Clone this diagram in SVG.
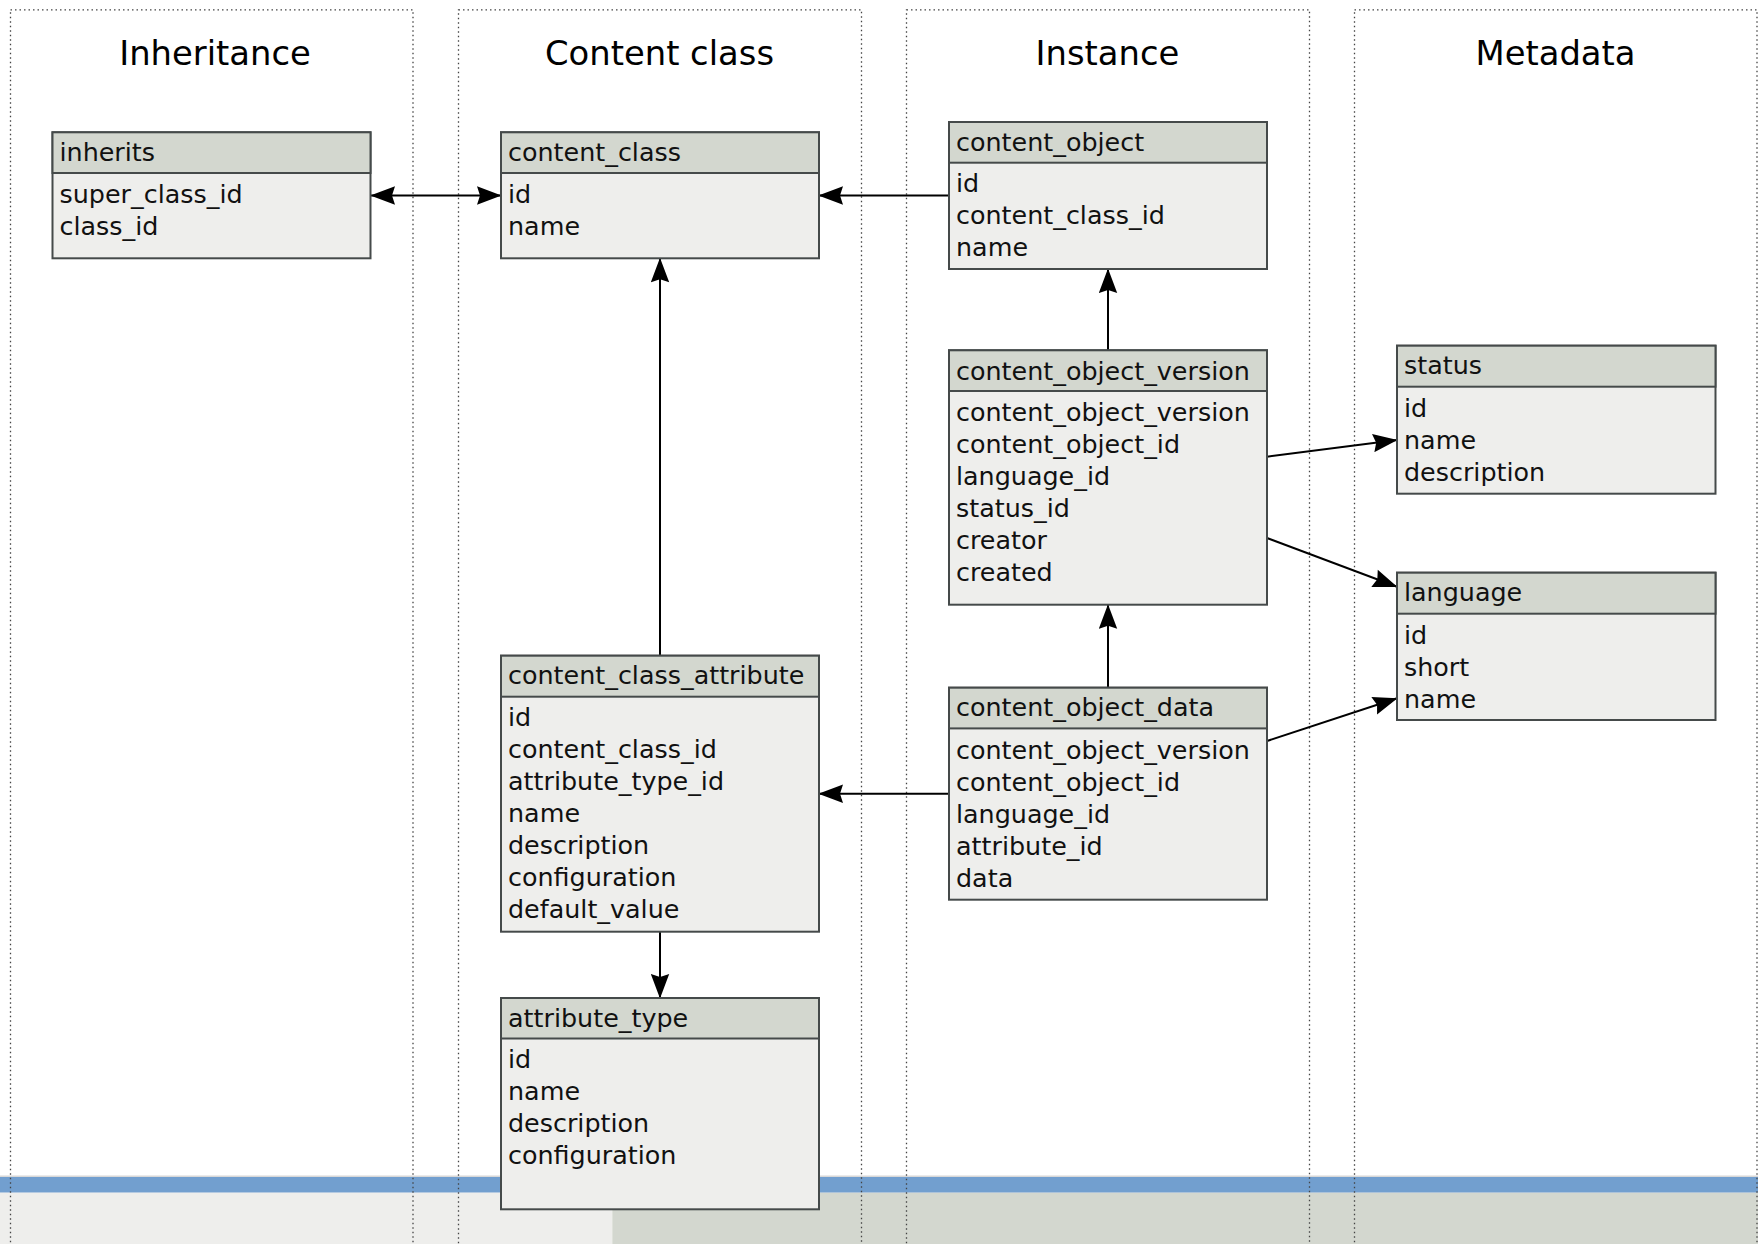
<svg xmlns="http://www.w3.org/2000/svg" width="1758" height="1244" viewBox="0 0 1758 1244">
<style>
.col{fill:none;stroke:#444;stroke-width:1.3;stroke-dasharray:1.5 3}
.title{font-family:"DejaVu Sans",sans-serif;font-size:33.8px;fill:#000;text-anchor:middle}
.hdr{fill:#d3d7cf;stroke:#454a4a;stroke-width:2}
.body{fill:#eeeeec;stroke:#454a4a;stroke-width:2}
.t{font-family:"DejaVu Sans",sans-serif;font-size:25.4px;fill:#111}
.c{fill:none;stroke:#000;stroke-width:2}
</style>
<defs>
<marker id="ah" viewBox="0 0 25 19" refX="24.5" refY="9.5" markerWidth="25" markerHeight="19" markerUnits="userSpaceOnUse" orient="auto-start-reverse">
<path d="M25,9.5 L0.5,0.3 L3.5,9.5 L0.5,18.7 Z" fill="#000"/>
</marker>
</defs>
<rect width="1758" height="1244" fill="#fff"/>
<g id="band">
<rect x="0" y="1175.5" width="1758" height="1.5" fill="#d8d8d8"/>
<rect x="0" y="1177" width="1758" height="15.7" fill="#729fcf"/>
<rect x="0" y="1192.7" width="612.3" height="52" fill="#eeeeec"/>
<rect x="612.3" y="1192.7" width="1146" height="52" fill="#d3d7cf"/>
</g>
<g id="columns">
<rect class="col" x="10.5" y="9.8" width="402.5" height="1260"/>
<rect class="col" x="458.5" y="9.8" width="403" height="1260"/>
<rect class="col" x="906.5" y="9.8" width="403" height="1260"/>
<rect class="col" x="1354.5" y="9.8" width="402.5" height="1260"/>
<text class="title" x="215" y="65">Inheritance</text>
<text class="title" x="659.5" y="65">Content class</text>
<text class="title" x="1107.5" y="65">Instance</text>
<text class="title" x="1555.5" y="65">Metadata</text>
</g>
<g id="connectors">
<line class="c" x1="371" y1="195.5" x2="501" y2="195.5" marker-start="url(#ah)" marker-end="url(#ah)"/>
<line class="c" x1="949" y1="195.5" x2="819" y2="195.5" marker-end="url(#ah)"/>
<line class="c" x1="660" y1="655.7" x2="660" y2="258.3" marker-end="url(#ah)"/>
<line class="c" x1="660" y1="931.7" x2="660" y2="998" marker-end="url(#ah)"/>
<line class="c" x1="1108" y1="350.3" x2="1108" y2="269" marker-end="url(#ah)"/>
<line class="c" x1="1108" y1="687.7" x2="1108" y2="604.7" marker-end="url(#ah)"/>
<line class="c" x1="949" y1="793.7" x2="819" y2="793.7" marker-end="url(#ah)"/>
<line class="c" x1="1267" y1="456.7" x2="1397" y2="440" marker-end="url(#ah)"/>
<line class="c" x1="1267" y1="538" x2="1397" y2="586.7" marker-end="url(#ah)"/>
<line class="c" x1="1267" y1="741" x2="1397" y2="698.3" marker-end="url(#ah)"/>
</g>
<g id="inherits">
<rect class="body" x="52.5" y="132.3" width="318" height="126"/>
<rect class="hdr" x="52.5" y="132.3" width="318" height="40.7"/>
<text class="t" x="59.5" y="160.9">inherits</text>
<text class="t" x="59.5" y="202.5">super_class_id</text>
<text class="t" x="59.5" y="234.5">class_id</text>
</g>
<g id="content_class">
<rect class="body" x="501" y="132.3" width="318" height="126"/>
<rect class="hdr" x="501" y="132.3" width="318" height="40.7"/>
<text class="t" x="508" y="160.9">content_class</text>
<text class="t" x="508" y="202.5">id</text>
<text class="t" x="508" y="234.5">name</text>
</g>
<g id="content_object">
<rect class="body" x="949" y="122" width="318" height="147"/>
<rect class="hdr" x="949" y="122" width="318" height="40.7"/>
<text class="t" x="956" y="150.6">content_object</text>
<text class="t" x="956" y="192.3">id</text>
<text class="t" x="956" y="224.3">content_class_id</text>
<text class="t" x="956" y="256.3">name</text>
</g>
<g id="content_object_version">
<rect class="body" x="949" y="350.3" width="318" height="254.4"/>
<rect class="hdr" x="949" y="350.3" width="318" height="40.7"/>
<text class="t" x="956" y="379.5">content_object_version</text>
<text class="t" x="956" y="420.7">content_object_version</text>
<text class="t" x="956" y="452.7">content_object_id</text>
<text class="t" x="956" y="484.7">language_id</text>
<text class="t" x="956" y="516.7">status_id</text>
<text class="t" x="956" y="548.7">creator</text>
<text class="t" x="956" y="580.7">created</text>
</g>
<g id="status">
<rect class="body" x="1397" y="345.7" width="318.5" height="148"/>
<rect class="hdr" x="1397" y="345.7" width="318.5" height="41"/>
<text class="t" x="1404" y="374.4">status</text>
<text class="t" x="1404" y="416.5">id</text>
<text class="t" x="1404" y="448.5">name</text>
<text class="t" x="1404" y="480.5">description</text>
</g>
<g id="language">
<rect class="body" x="1397" y="572.7" width="318.5" height="147.3"/>
<rect class="hdr" x="1397" y="572.7" width="318.5" height="41"/>
<text class="t" x="1404" y="601.4">language</text>
<text class="t" x="1404" y="643.5">id</text>
<text class="t" x="1404" y="675.5">short</text>
<text class="t" x="1404" y="707.5">name</text>
</g>
<g id="content_class_attribute">
<rect class="body" x="501" y="655.7" width="318" height="276"/>
<rect class="hdr" x="501" y="655.7" width="318" height="41"/>
<text class="t" x="508" y="684.3">content_class_attribute</text>
<text class="t" x="508" y="726">id</text>
<text class="t" x="508" y="758">content_class_id</text>
<text class="t" x="508" y="790">attribute_type_id</text>
<text class="t" x="508" y="822">name</text>
<text class="t" x="508" y="854">description</text>
<text class="t" x="508" y="886">configuration</text>
<text class="t" x="508" y="918">default_value</text>
</g>
<g id="content_object_data">
<rect class="body" x="949" y="687.7" width="318" height="212"/>
<rect class="hdr" x="949" y="687.7" width="318" height="40.7"/>
<text class="t" x="956" y="716.3">content_object_data</text>
<text class="t" x="956" y="758.5">content_object_version</text>
<text class="t" x="956" y="790.5">content_object_id</text>
<text class="t" x="956" y="822.5">language_id</text>
<text class="t" x="956" y="854.5">attribute_id</text>
<text class="t" x="956" y="886.5">data</text>
</g>
<g id="attribute_type">
<rect class="body" x="501" y="998" width="318" height="211.3"/>
<rect class="hdr" x="501" y="998" width="318" height="40.5"/>
<text class="t" x="508" y="1026.6">attribute_type</text>
<text class="t" x="508" y="1068">id</text>
<text class="t" x="508" y="1100">name</text>
<text class="t" x="508" y="1132">description</text>
<text class="t" x="508" y="1164">configuration</text>
</g>
</svg>
